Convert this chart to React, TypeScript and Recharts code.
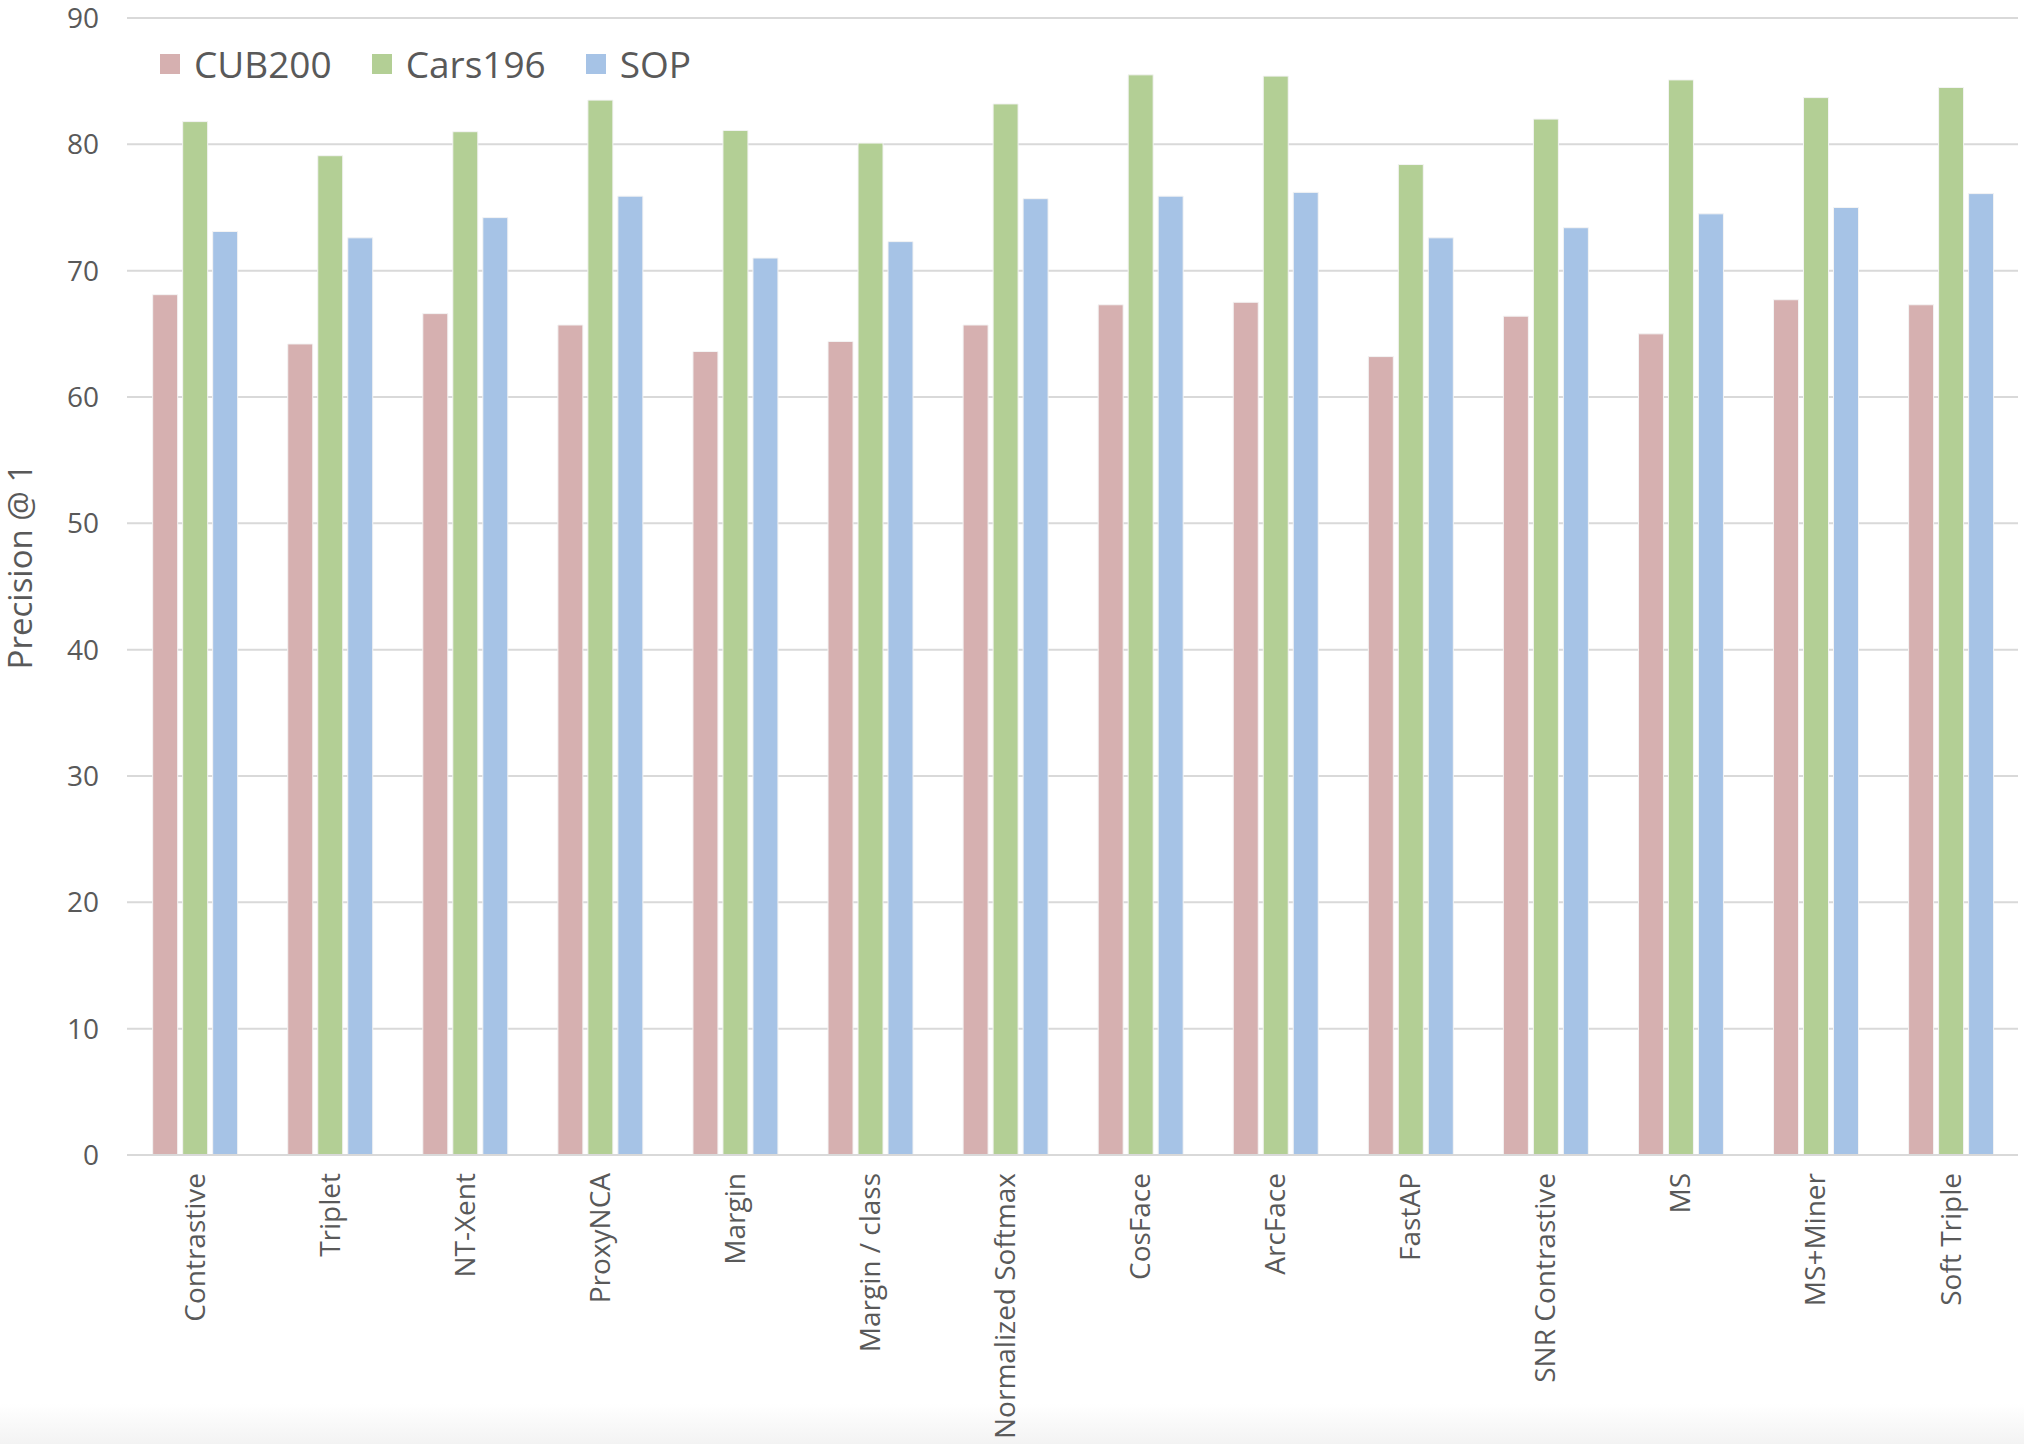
import { BarChart, Bar, XAxis, YAxis, CartesianGrid } from 'recharts'

const methods = [
  'Contrastive', 'Triplet', 'NT-Xent', 'ProxyNCA', 'Margin', 'Margin / class',
  'Normalized Softmax', 'CosFace', 'ArcFace', 'FastAP', 'SNR Contrastive',
  'MS', 'MS+Miner', 'Soft Triple',
]
const cub200 = [68.1, 64.2, 66.6, 65.7, 63.6, 64.4, 65.7, 67.3, 67.5, 63.2, 66.4, 65.0, 67.7, 67.3]
const cars196 = [81.8, 79.1, 81.0, 83.5, 81.1, 80.1, 83.2, 85.5, 85.4, 78.4, 82.0, 85.1, 83.7, 84.5]
const sop = [73.1, 72.6, 74.2, 75.9, 71.0, 72.3, 75.7, 75.9, 76.2, 72.6, 73.4, 74.5, 75.0, 76.1]
const yTicks = [0, 10, 20, 30, 40, 50, 60, 70, 80, 90]

const series = [
  { key: 'CUB200', color: '#d6b0b0' },
  { key: 'Cars196', color: '#b3cf95' },
  { key: 'SOP', color: '#a6c3e6' },
]

const data = methods.map((m, i) => ({
  name: m,
  CUB200: cub200[i],
  Cars196: cars196[i],
  SOP: sop[i],
}))

const FONT = '"Open Sans", sans-serif'
const TXT = '#595959'

// rotated category labels reading bottom-to-top
const CatTick = (props: any) => {
  const { x, y, payload } = props
  return (
    <g transform={`translate(${x},${y + 10})`}>
      <text
        transform="rotate(-90)"
        textAnchor="end"
        dy="0.36em"
        fill={TXT}
        fontSize={28}
        fontFamily={FONT}
      >
        {payload.value}
      </text>
    </g>
  )
}

// y title sits a bit above the plot's middle in the original
const YTitle = (props: any) => {
  const vb = props.viewBox || {}
  const cx = 19
  const cy = (vb.y ?? 18) + (vb.height ?? 1137) / 2 - 20
  return (
    <text
      x={cx}
      y={cy}
      transform={`rotate(-90, ${cx}, ${cy})`}
      textAnchor="middle"
      dominantBaseline="central"
      fill={TXT}
      fontSize={33}
      fontFamily={FONT}
    >
      Precision @ 1
    </text>
  )
}

// legend drawn over the plot, like the original (it takes no room from the plot)
const LegendBox = () => (
  <div
    style={{
      position: 'absolute', left: 160, top: 38, display: 'flex', alignItems: 'center',
      fontFamily: FONT, color: TXT, fontSize: 37,
    }}
  >
    {series.map((s) => (
      <div key={s.key} style={{ display: 'flex', alignItems: 'center', marginRight: 40 }}>
        <span style={{ width: 20, height: 20, background: s.color, display: 'inline-block', marginRight: 14 }} />
        <span>{s.key}</span>
      </div>
    ))}
  </div>
)

export default function App() {
  return (
    <div style={{ position: 'absolute', left: 0, top: 0, width: 2024, height: 1444, background: '#fff' }}>
      <div
        style={{
          position: 'absolute', left: 0, bottom: 0, width: 2024, height: 40,
          background: 'linear-gradient(#ffffff, #f3f3f3)',
        }}
      />
      <BarChart
        width={2024}
        height={1444}
        data={data}
        margin={{ top: 18, right: 6, left: 10, bottom: 0 }}
        barCategoryGap="19%"
        barGap={5}
      >
        <CartesianGrid stroke="#d9d9d9" strokeWidth={2} vertical={false} />
        <XAxis
          dataKey="name"
          interval={0}
          height={289}
          tick={<CatTick />}
          tickLine={false}
          axisLine={{ stroke: '#d9d9d9', strokeWidth: 2 }}
        />
        <YAxis
          domain={[0, 90]}
          ticks={yTicks}
          width={117}
          tickLine={false}
          axisLine={false}
          tickMargin={22}
          tick={{ fontSize: 28, fill: TXT, fontFamily: FONT }}
          label={{ content: <YTitle /> }}
        />
        {series.map((s) => (
          <Bar
            key={s.key}
            dataKey={s.key}
            fill={s.color}
            stroke="#f4f4f4"
            strokeWidth={1}
            isAnimationActive={false}
          />
        ))}
      </BarChart>
      <LegendBox />
    </div>
  )
}
